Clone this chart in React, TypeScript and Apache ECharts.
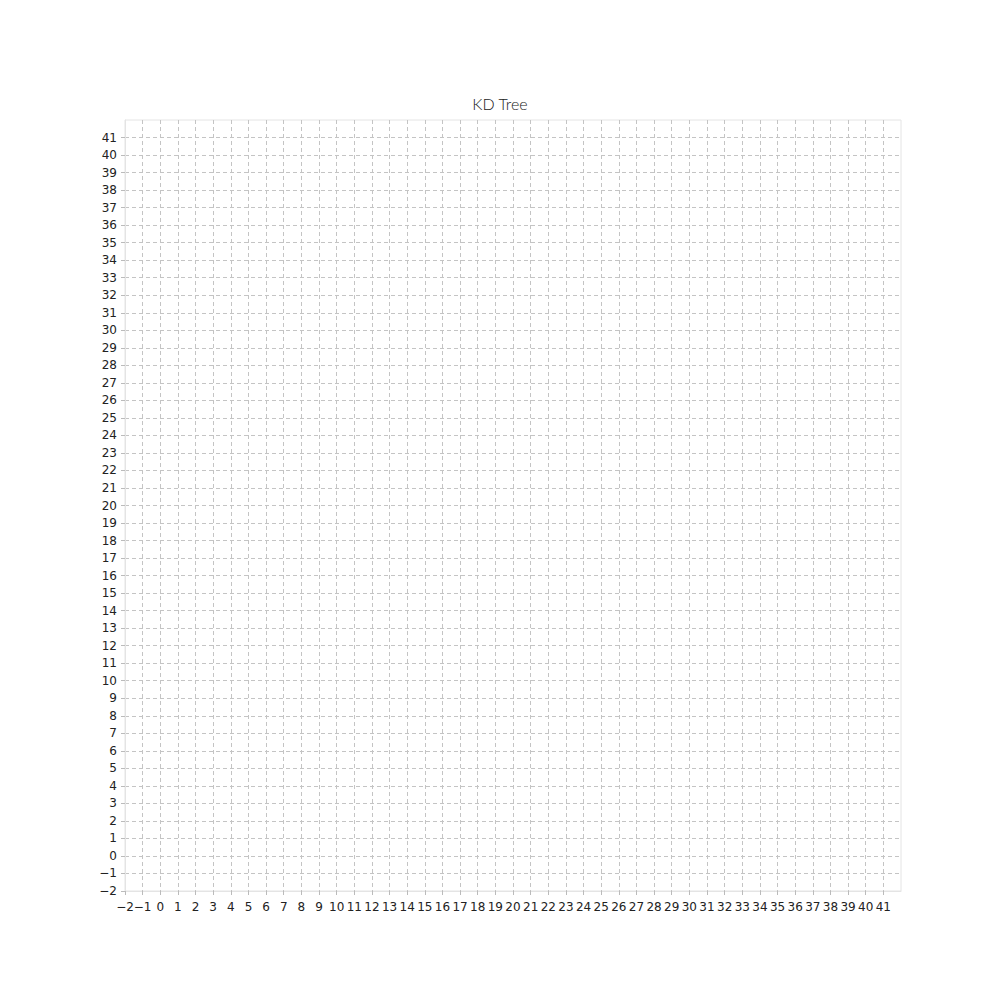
import React, { useEffect, useRef } from "react";
import * as echarts from "echarts";

const title = "KD Tree";
const xTicks: number[] = [];
for (let v = -2; v <= 41; v++) xTicks.push(v);
const yTicks: number[] = [...xTicks];
const axisMin = -2;
const axisMax = 42;
const points: number[][] = [];

const fmt = (v: number) => String(v).replace("-", "\u2212");

export default function App() {
  const ref = useRef<HTMLDivElement>(null);
  useEffect(() => {
    if (!ref.current) return;
    const chart = echarts.init(ref.current, undefined, { renderer: "svg" });
    const axisCommon = {
      type: "value" as const,
      min: axisMin,
      max: axisMax,
      interval: 1,
      axisLine: { show: true, onZero: false, lineStyle: { color: "#e4e4e4", width: 1 } },
      axisTick: { show: true, length: 4, lineStyle: { color: "#bbbbbb" } },
      splitLine: { show: true, lineStyle: { color: "#c4c4c4", type: [4, 3] as any, width: 1 } },
    };
    const labelCommon = {
      fontFamily: "DejaVu Sans",
      fontSize: 12,
      color: "#222222",
      formatter: fmt,
    };
    chart.setOption({
      animation: false,
      backgroundColor: "#ffffff",
      title: {
        text: title,
        left: "center",
        top: 90,
        textStyle: { fontFamily: "Lato", fontWeight: 300, fontSize: 16, color: "#222222" },
      },
      grid: {
        left: 125,
        right: 99,
        top: 120,
        bottom: 109,
        show: true,
        borderColor: "#e4e4e4",
        borderWidth: 1,
      },
      xAxis: {
        ...axisCommon,
        axisTick: { ...axisCommon.axisTick, customValues: xTicks },
        axisLabel: { ...labelCommon, margin: 10, customValues: xTicks },
      },
      yAxis: {
        ...axisCommon,
        axisTick: { ...axisCommon.axisTick, customValues: yTicks },
        axisLabel: { ...labelCommon, margin: 8, customValues: yTicks },
      },
      series: [{ type: "scatter", data: points }],
    });
    return () => chart.dispose();
  }, []);
  return (
    <div
      ref={ref}
      style={{ position: "fixed", left: 0, top: 0, width: 1000, height: 1000 }}
    />
  );
}
